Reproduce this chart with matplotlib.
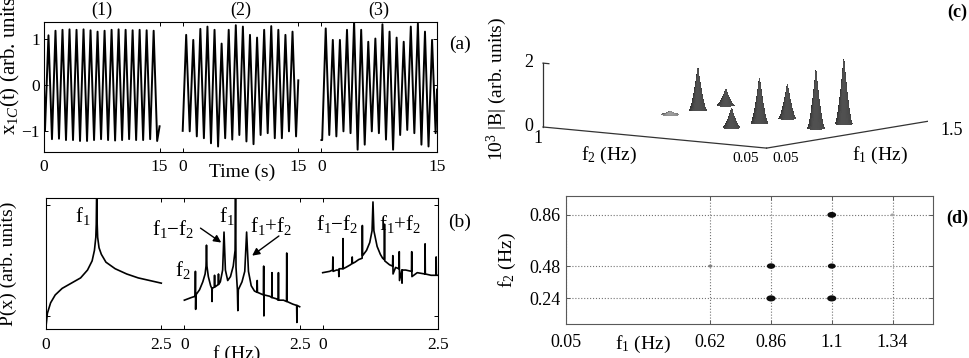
import numpy as np
import matplotlib
matplotlib.use('Agg')
import matplotlib.pyplot as plt
from matplotlib.path import Path
from matplotlib.transforms import Affine2D
from mpl_toolkits.mplot3d import proj3d

plt.rcParams['font.family'] = ['Liberation Serif', 'DejaVu Serif']
plt.rcParams['mathtext.fontset'] = 'custom'
plt.rcParams['mathtext.rm'] = 'Liberation Serif'
plt.rcParams['mathtext.it'] = 'Liberation Serif:italic'
plt.rcParams['font.size'] = 12.5

W, H = 970, 358

# ---- (a) x_1C(t): extremes of the three runs ----
a_titles = ['(1)', '(2)', '(3)']
a_first_peak = [0.58, 0.45, 0.56]
a_half_period = [0.455, 0.46, 0.46]
a_start = [-0.05, -1.0, -1.2]
a_end = [-0.9, 0.1, -0.1]
a1_peaks = [1.08, 1.18, 1.20, 1.21, 1.20, 1.21, 1.19, 1.16, 1.18, 1.20, 1.21, 1.20, 1.19, 1.20, 1.19, 1.18]
a1_troughs = [-1.00, -1.18, -1.17, -1.20, -1.20, -1.22, -1.22, -1.20, -1.18, -1.20, -1.21, -1.20,
              -1.18, -1.20, -1.20, -1.18, -1.22]
a2_peaks = [1.09, 0.98, 1.22, 1.27, 1.20, 0.90, 1.20, 1.30, 1.27, 1.09, 1.03, 1.20, 1.28, 1.20, 1.09, 1.16]
a2_troughs = [-1.00, -1.01, -1.12, -1.16, -1.27, -1.34, -1.16, -1.19, -1.09, -1.23, -1.29, -1.09,
              -1.05, -1.16, -1.16, -1.01, -1.12]
a3_peaks = [1.23, 0.98, 0.98, 1.20, 1.38, 1.20, 0.94, 1.01, 1.32, 1.16, 1.03, 0.94, 1.27, 1.34, 1.16, 0.98]
a3_troughs = [-1.20, -1.09, -1.12, -1.01, -1.05, -1.41, -1.30, -1.01, -1.05, -1.19, -1.41, -1.09,
              -0.98, -1.05, -1.30, -1.34, -1.05]
a_xtick_labels = ['0', '15', '0', '15', '0', '15']

# ---- (b) power spectra P(x), arbitrary units ----
b1_freq = [0.00, 0.03, 0.10, 0.20, 0.35, 0.55, 0.75, 0.90, 1.00, 1.05, 1.08, 1.09, 1.10,
           1.11, 1.12, 1.15, 1.20, 1.30, 1.50, 1.75, 2.00, 2.25, 2.50]
b1_pow = [0.02, 0.12, 0.20, 0.26, 0.31, 0.35, 0.39, 0.45, 0.52, 0.60, 0.70, 0.80, 1.10,
          0.80, 0.70, 0.62, 0.57, 0.51, 0.46, 0.42, 0.39, 0.37, 0.35]
b2_freq = [0.00, 0.15, 0.235, 0.24, 0.245, 0.25, 0.33, 0.40, 0.45, 0.47, 0.48, 0.49, 0.52, 0.57,
           0.595, 0.60, 0.605, 0.65, 0.655, 0.66, 0.70, 0.735, 0.74, 0.745, 0.78, 0.83, 0.86, 0.89,
           0.94, 1.00, 1.06, 1.10, 1.11, 1.12, 1.15, 1.16, 1.17, 1.25, 1.31, 1.35, 1.39, 1.45, 1.52,
           1.575, 1.58, 1.585, 1.65, 1.715, 1.72, 1.725, 1.73, 1.85, 1.895, 1.90, 1.905, 2.00,
           2.035, 2.04, 2.045, 2.15, 2.215, 2.22, 2.225, 2.35, 2.435, 2.44, 2.445, 2.50]
b2_pow = [0.22, 0.24, 0.25, 0.44, 0.15, 0.26, 0.30, 0.36, 0.42, 0.48, 0.64, 0.48, 0.40, 0.33,
          0.31, 0.21, 0.31, 0.32, 0.41, 0.32, 0.33, 0.34, 0.42, 0.34, 0.36, 0.45, 0.74, 0.45,
          0.37, 0.40, 0.48, 0.60, 1.10, 0.47, 0.30, 0.14, 0.30, 0.36, 0.44, 0.74, 0.44, 0.33, 0.29,
          0.28, 0.37, 0.28, 0.27, 0.26, 0.48, 0.10, 0.26, 0.25, 0.24, 0.43, 0.24, 0.23,
          0.22, 0.43, 0.22, 0.22, 0.21, 0.58, 0.21, 0.19, 0.18, 0.05, 0.18, 0.17]
b3_freq = [0.00, 0.15, 0.215, 0.22, 0.225, 0.30, 0.345, 0.35, 0.355, 0.40, 0.435, 0.44, 0.445,
           0.50, 0.60, 0.635, 0.64, 0.645, 0.70, 0.78, 0.855, 0.86, 0.865, 0.95, 1.02, 1.07, 1.09,
           1.11, 1.18, 1.25, 1.30, 1.335, 1.34, 1.345, 1.45, 1.515, 1.52, 1.525, 1.58, 1.655,
           1.66, 1.665, 1.715, 1.72, 1.725, 1.80, 1.925, 1.93, 1.935, 2.05, 2.215, 2.22, 2.225,
           2.35, 2.455, 2.46, 2.465, 2.50]
b3_pow = [0.43, 0.44, 0.45, 0.55, 0.44, 0.45, 0.45, 0.40, 0.46, 0.46, 0.46, 0.69, 0.46,
          0.47, 0.49, 0.50, 0.55, 0.50, 0.51, 0.53, 0.54, 0.79, 0.56, 0.60, 0.66, 0.75, 0.97,
          0.75, 0.63, 0.57, 0.54, 0.53, 0.80, 0.52, 0.49, 0.48, 0.56, 0.42, 0.47, 0.46,
          0.59, 0.37, 0.45, 0.35, 0.45, 0.45, 0.44, 0.59, 0.40, 0.43, 0.42, 0.65, 0.42,
          0.41, 0.41, 0.55, 0.41, 0.41]
b_xtick_labels = ['0', '2.5', '0', '2.5', '0', '2.5']

# ---- (c) bispectrum peaks ----
c_f1 = [0.86, 1.10, 1.34, 0.62, 0.86, 1.10, 0.86, 1.10]
c_f2 = [0.86, 0.86, 0.86, 0.48, 0.48, 0.48, 0.24, 0.24]
c_B = [0.10, 1.30, 0.50, 0.60, 1.40, 1.06, 1.80, 2.00]

# ---- (d) bispectrum peak locations ----
d_f1 = [1.10, 1.34, 0.62, 0.86, 1.10, 0.86, 1.10]
d_f2 = [0.86, 0.86, 0.48, 0.48, 0.48, 0.24, 0.24]
d_size = [40, 9, 10, 36, 32, 44, 44]
d_gray = ['0.05', '0.65', '0.5', '0.05', '0.05', '0.05', '0.05']
d_xticks = [0.05, 0.62, 0.86, 1.1, 1.34]
d_xtick_labels = ['0.05', '0.62', '0.86', '1.1', '1.34']
d_yticks = [0.24, 0.48, 0.86]
d_ytick_labels = ['0.24', '0.48', '0.86']


def zigzag(t_peak, half, peaks, troughs, start, end, T=15):
    vals = []
    for k in range(len(troughs)):
        vals.append(troughs[k])
        if k < len(peaks):
            vals.append(peaks[k])
    times = t_peak - half + half * np.arange(len(vals))
    keep = (times > 0) & (times < T)
    t = np.concatenate([[0], times[keep], [T]])
    v = np.concatenate([[start], np.array(vals)[keep], [end]])
    return t, v


def frame_style(ax, color='k'):
    for sp in ax.spines.values():
        sp.set_color(color)
        sp.set_linewidth(0.8)
    ax.tick_params(direction='in', top=True, right=True, length=3, width=0.7, color=color)


fig = plt.figure(figsize=(W / 100, H / 100), dpi=100)

# 3D axes first so the flat panels sit above it
ax3 = fig.add_axes([0.55, 0.5, 0.4, 0.4], projection='3d')
ax3.patch.set_visible(False)
ax3.set_proj_type('ortho')
ax3.view_init(elev=7.2, azim=-143)
ax3.set_box_aspect((1, 1, 0.23))
ax3.set_xlim(0.05, 1.5)
ax3.set_ylim(0.05, 1.0)
ax3.set_zlim(0, 2)
ax3.set_axis_off()
for t in (ax3.title, ax3._left_title, ax3._right_title):
    t.set_visible(False)
for axis in (ax3.xaxis, ax3.yaxis, ax3.zaxis):
    axis.label.set_visible(False)
    axis.offsetText.set_visible(False)
    axis.set_ticks([])

# (a)
axa = fig.add_axes([44 / W, 1 - 152 / H, 393 / W, 130 / H])
seg_a = 15
gap_a = 3
a_sets = [(a1_peaks, a1_troughs), (a2_peaks, a2_troughs), (a3_peaks, a3_troughs)]
for i, (pk, tr) in enumerate(a_sets):
    t, v = zigzag(a_first_peak[i], a_half_period[i], pk, tr, a_start[i], a_end[i], seg_a)
    off = i * (seg_a + gap_a)
    axa.plot(t + off, v, color='k', lw=1.4)
    axa.text(off + seg_a / 2, 1.09, a_titles[i], transform=axa.get_xaxis_transform(),
             ha='center', va='center', fontsize=13)
axa.set_xlim(0, 3 * seg_a + 2 * gap_a)
axa.set_ylim(-1.46, 1.37)
axa.set_xticks([i * (seg_a + gap_a) + d for i in range(3) for d in (0, seg_a)])
axa.set_xticklabels(a_xtick_labels)
axa.set_yticks([-1, 0, 1])
frame_style(axa)
axa.tick_params(axis='x', pad=5)
axa.tick_params(axis='y', pad=3)

# (b)
axb = fig.add_axes([46 / W, 1 - 329 / H, 392 / W, 131 / H])
seg_b = 2.5
gap_b = 0.5
b_sets = [(b1_freq, b1_pow), (b2_freq, b2_pow), (b3_freq, b3_pow)]
for i, (fr, pw) in enumerate(b_sets):
    off = i * (seg_b + gap_b)
    axb.plot(np.array(fr) + off, pw, color='k', lw=1.2)
axb.set_xlim(0, 3 * seg_b + 2 * gap_b)
axb.set_ylim(0, 1)
axb.set_xticks([i * (seg_b + gap_b) + d for i in range(3) for d in (0, seg_b)])
axb.set_xticklabels(b_xtick_labels)
axb.set_yticks([0.10, 0.947])
axb.set_yticklabels([])
frame_style(axb)
axb.tick_params(axis='x', pad=6)

akw = dict(arrowstyle='-|>', color='k', lw=1.0, mutation_scale=11, shrinkA=0, shrinkB=0)
axb.text(0.62, 0.86, 'f$_1$', fontsize=15, ha='left', va='center')
axb.text(2.30, 0.76, 'f$_1$\u2212f$_2$', fontsize=15, ha='left', va='center')
axb.annotate('', xy=(3.80, 0.66), xytext=(3.35, 0.77), arrowprops=akw)
axb.text(3.75, 0.86, 'f$_1$', fontsize=15, ha='left', va='center')
axb.text(4.42, 0.79, 'f$_1$+f$_2$', fontsize=15, ha='left', va='center')
axb.annotate('', xy=(4.47, 0.56), xytext=(5.05, 0.71), arrowprops=akw)
axb.text(2.80, 0.45, 'f$_2$', fontsize=15, ha='left', va='center')
axb.text(5.85, 0.80, 'f$_1$\u2212f$_2$', fontsize=15, ha='left', va='center')
axb.text(7.22, 0.80, 'f$_1$+f$_2$', fontsize=15, ha='left', va='center')

# (c)
rr, th = np.meshgrid(np.linspace(0, 1, 16), np.linspace(0, 2 * np.pi, 30))
rad = 0.03
for f1, f2, b in zip(c_f1, c_f2, c_B):
    X = f1 + rad * 1.45 * rr * np.cos(th)
    Y = f2 + rad * 0.95 * rr * np.sin(th)
    Z = b * (1 - rr) ** 1.5
    col = '0.62' if b < 0.3 else '0.32'
    ax3.plot_surface(X, Y, Z, color=col, linewidth=0, antialiased=False, shade=True)
ax3.plot([0.05, 0.05], [1.0, 0.05], [0, 0], color='0.2', lw=0.9)
ax3.plot([0.05, 1.5], [0.05, 0.05], [0, 0], color='0.2', lw=0.9)
ax3.plot([0.05, 0.05], [1.0, 1.0], [0, 2], color='0.2', lw=0.9)
ax3.plot([0.05, 0.05], [1.0, 0.975], [2, 2], color='0.2', lw=0.9)
ax3.text(0.05, 1.04, 0, '0', ha='right', va='center', fontsize=13)
ax3.text(0.05, 1.04, 2, '2', ha='right', va='center', fontsize=13)
ax3.text(0.05, 1.02, -0.12, '1', ha='center', va='top', fontsize=13)
ax3.text(0.05, 0.08, -0.15, '0.05', ha='right', va='top', fontsize=11)
ax3.text(0.10, 0.05, -0.15, '0.05', ha='left', va='top', fontsize=11)
ax3.text(1.55, 0.05, -0.10, '1.5', ha='left', va='top', fontsize=13)

# (d)
axd = fig.add_axes([566 / W, 1 - 324 / H, 367 / W, 128 / H])
ell = Path.unit_circle().transformed(Affine2D().scale(1.5, 1.0))
axd.scatter(d_f1, d_f2, s=d_size, c=d_gray, marker=ell, linewidths=0, zorder=3)
axd.set_xlim(0.05, 1.5)
axd.set_ylim(0.05, 1.0)
axd.set_xticks(d_xticks)
axd.set_xticklabels(d_xtick_labels, fontsize=13)
axd.set_yticks(d_yticks)
axd.set_yticklabels(d_ytick_labels, fontsize=13)
axd.grid(True, linestyle=':', color='0.45', lw=0.8)
frame_style(axd, color='0.35')
axd.tick_params(axis='x', pad=7)
axd.tick_params(axis='y', pad=4)
axd.set_xlabel('f$_1$ (Hz)', fontsize=14)
axd.xaxis.set_label_coords(0.21, -0.08)
axd.set_ylabel('f$_2$ (Hz)', fontsize=14)
axd.yaxis.set_label_coords(-0.16, 0.5)
axd.yaxis.label.set_va('center')

# figure labels
fig.text(10 / W, 1 - 62 / H, 'x$_{1C}$(t) (arb. units)', rotation=90, ha='center', va='center', fontsize=15)
fig.text(8 / W, 1 - 264 / H, 'P(x) (arb. units)', rotation=90, ha='center', va='center', fontsize=14)
fig.text(242 / W, 1 - 172 / H, 'Time (s)', ha='center', va='center', fontsize=14)
fig.text(237 / W, 1 - 354 / H, 'f (Hz)', ha='center', va='center', fontsize=14)
fig.text(460 / W, 1 - 44 / H, '(a)', ha='center', va='center', fontsize=14)
fig.text(460 / W, 1 - 222 / H, '(b)', ha='center', va='center', fontsize=14)
fig.text(957 / W, 1 - 12 / H, '(c)', ha='center', va='center', fontsize=13, fontweight='bold')
fig.text(957 / W, 1 - 218 / H, '(d)', ha='center', va='center', fontsize=13, fontweight='bold')
fig.text(609 / W, 1 - 155 / H, 'f$_2$ (Hz)', ha='center', va='center', fontsize=14)
fig.text(880 / W, 1 - 155 / H, 'f$_1$ (Hz)', ha='center', va='center', fontsize=14)
fig.text(497 / W, 1 - 89 / H, '10$^3$ |B| (arb. units)', rotation=90, ha='center', va='center', fontsize=14)

# fit the 3D box so its floor corners land under the labels
fig.canvas.draw()


def c_frac(x, y, z):
    xs, ys, _ = proj3d.proj_transform(x, y, z, ax3.get_proj())
    return ax3.transAxes.inverted().transform(ax3.transData.transform((xs, ys)))


uL, vL = c_frac(0.05, 1.0, 0)
uR, vR = c_frac(1.5, 0.05, 0)
side = (935 - 543) / (uR - uL)
left = 543 - uL * side
bottom = (H - 127) - vL * side
ax3.set_position([left / W, bottom / H, side / W, side / H])

fig.savefig('out.png', dpi=100)
